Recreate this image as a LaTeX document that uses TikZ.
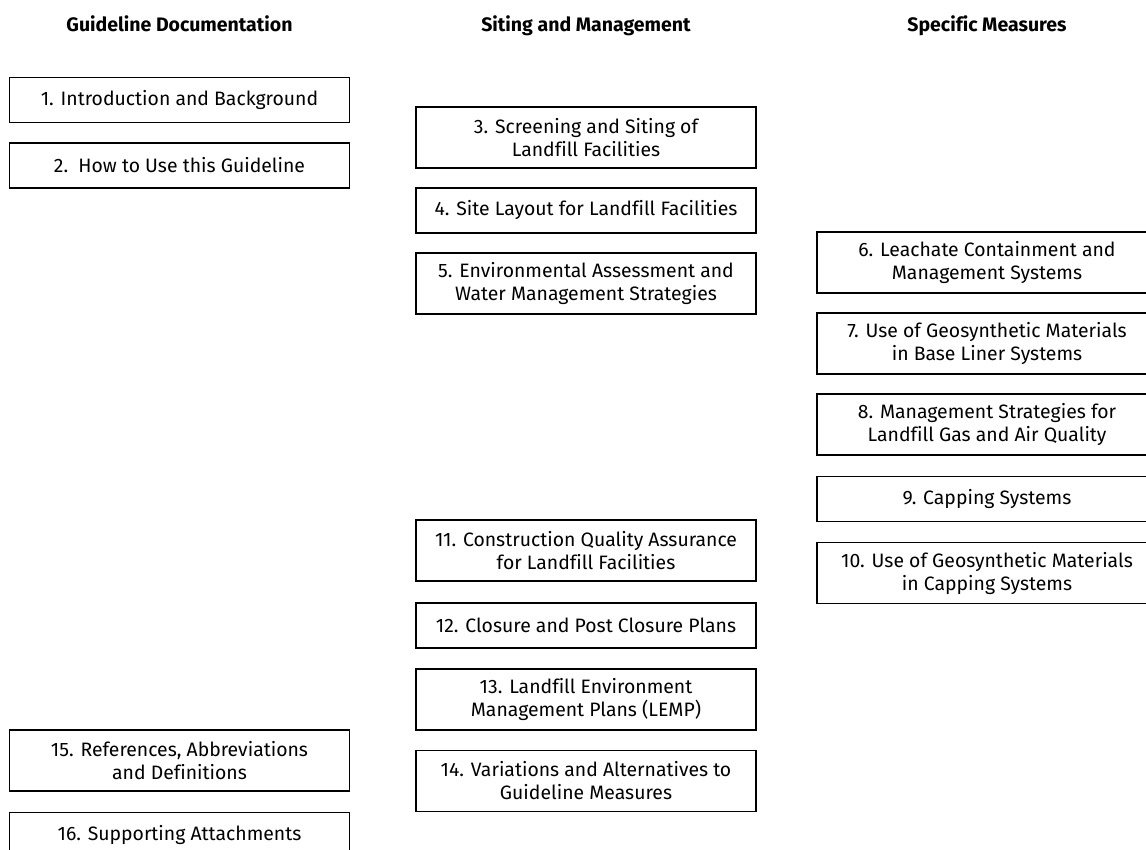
\documentclass[tikz,border=0pt]{standalone}
\usepackage{fontspec}
\setmainfont[Ligatures=NoCommon]{Fira Sans}
\begin{document}
\begin{tikzpicture}[x=1pt,y=-1pt,
  chapter/.style={draw=black, line width=1.3pt, minimum width=340pt, inner sep=0pt,
    align=center, font=\fontsize{19.4}{23}\selectfont},
  onerow/.style={chapter, minimum height=45pt},
  tworow/.style={chapter, minimum height=61pt},
  heading/.style={anchor=base, font=\bfseries\fontsize{19.5}{23}\selectfont}]
\useasboundingbox (0,0) rectangle (1146,850);

% column headings
\node[heading] (hdoc)  at (179.5,32) {Guideline Documentation};
\node[heading] (hsite) at (586,32)   {Siting and Management};
\node[heading] (hspec) at (987,32)   {Specific Measures};

% guideline documentation
\node[onerow] (c1)  at (179.5,100)   {1. Introduction and Background};
\node[onerow] (c2)  at (179.5,165.5) {2.\ \ How to Use this Guideline};
\node[tworow] (c15) at (179.5,760.5) {15. References, Abbreviations\\and Definitions};
\node[onerow] (c16) at (179.5,835)   {16. Supporting Attachments};

% siting and management
\node[tworow] (c3)  at (586,137.5) {3. Screening and Siting of\\Landfill Facilities};
\node[onerow] (c4)  at (586,210.5) {4. Site Layout for Landfill Facilities};
\node[tworow] (c5)  at (586,283.5) {5. Environmental Assessment and\\Water Management Strategies};
\node[tworow] (c11) at (586,550.5) {11. Construction Quality Assurance\\for Landfill Facilities};
\node[onerow] (c12) at (586,625.5) {12. Closure and Post Closure Plans};
\node[tworow] (c13) at (586,699.5) {13. Landfill Environment\\Management Plans (LEMP)};
\node[tworow] (c14) at (586,781)   {14. Variations and Alternatives to\\Guideline Measures};

% specific measures
\node[tworow] (c6)  at (987,262.5) {6. Leachate Containment and\\Management Systems};
\node[tworow] (c7)  at (987,343.5) {7. Use of Geosynthetic Materials\\in Base Liner Systems};
\node[tworow] (c8)  at (987,424.5) {8. Management Strategies for\\Landfill Gas and Air Quality};
\node[onerow] (c9)  at (987,499)   {9. Capping Systems};
\node[tworow] (c10) at (987,573)   {10. Use of Geosynthetic Materials\\in Capping Systems};
\end{tikzpicture}
\end{document}
